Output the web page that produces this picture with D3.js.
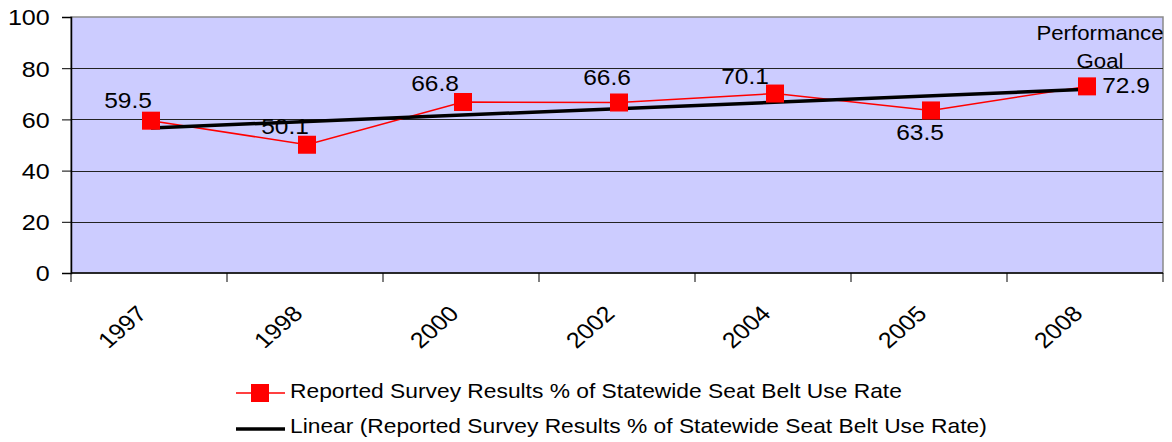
<!DOCTYPE html>
<html>
<head>
	<meta charset="utf-8">
	<title>Seat Belt Use Rate</title>
	<script src="https://d3js.org/d3.v7.min.js"></script>
	<style>
		body { margin: 0; background: #fff; }
		svg text { font-family: "Liberation Sans", Arial, sans-serif; fill: #000; }
	</style>
</head>
<body>
<div id="chart"></div>
<script type="text/javascript">

	// data
	var years = ["1997", "1998", "2000", "2002", "2004", "2005", "2008"];
	var rates = [59.5, 50.1, 66.8, 66.6, 70.1, 63.5, 72.9];
	var yTicks = [0, 20, 40, 60, 80, 100];
	var seriesName = "Reported Survey Results % of Statewide Seat Belt Use Rate";
	var trendName = "Linear (Reported Survey Results % of Statewide Seat Belt Use Rate)";

	// where each value label sits, relative to its marker (placed by hand in the original)
	var labelOffsets = [[-23, -13], [-22, -11], [-28, -11], [-12, -18], [-30, -10], [-11, 30], [39, 7]];

	var W = 1172, H = 442;
	var stretch = 1.14;   // the original picture is a bit wider than tall

	var svg = d3.select("#chart").append("svg")
		.attr("width", W)
		.attr("height", H);

	var x = d3.scaleBand().domain(years).range([71, 1163]).padding(0);
	var y = d3.scaleLinear().domain([0, 100]).range([273, 17]);

	var cx = function(d, i) { return x(years[i]) + x.bandwidth() / 2 + 2; };

	// plot area
	svg.append("rect")
		.attr("x", x.range()[0])
		.attr("y", y(100))
		.attr("width", x.range()[1] - x.range()[0])
		.attr("height", y(0) - y(100))
		.style("fill", "#ccccff")
		.style("stroke", "#8a8a8a")
		.style("stroke-width", 1.5);

	// gridlines
	svg.append("g").selectAll("line")
		.data(yTicks.filter(function(t) { return t > 0 && t < 100; }))
		.enter()
		.append("line")
		.attr("x1", x.range()[0])
		.attr("x2", x.range()[1])
		.attr("y1", function(d) { return Math.round(y(d)) + 0.5; })
		.attr("y2", function(d) { return Math.round(y(d)) + 0.5; })
		.style("stroke", "#222")
		.style("stroke-width", 1);

	// y axis
	var yAxis = svg.append("g")
		.attr("transform", "translate(" + x.range()[0] + ",0)")
		.call(d3.axisLeft(y).tickValues(yTicks).tickSize(9).tickPadding(11));
	yAxis.select(".domain").style("stroke", "#000").style("stroke-width", 1.5);
	yAxis.selectAll(".tick line").style("stroke", "#000");
	yAxis.selectAll(".tick text")
		.style("font-size", "22px")
		.attr("dy", "0.36em")
		.attr("transform", "scale(" + stretch + ",1)");
	yAxis.selectAll(".tick text").attr("x", -19 / stretch - 2);

	// x axis line and ticks at the category borders
	svg.append("line")
		.attr("x1", x.range()[0])
		.attr("x2", x.range()[1])
		.attr("y1", y(0))
		.attr("y2", y(0))
		.style("stroke", "#000")
		.style("stroke-width", 1.5);

	var borders = years.map(function(d) { return x(d); }).concat([x.range()[1]]);
	svg.append("g").selectAll("line")
		.data(borders)
		.enter()
		.append("line")
		.attr("x1", function(d) { return d; })
		.attr("x2", function(d) { return d; })
		.attr("y1", y(0))
		.attr("y2", y(0) + 9)
		.style("stroke", "#000")
		.style("stroke-width", 1);

	svg.append("g").selectAll("text")
		.data(years)
		.enter()
		.append("text")
		.attr("transform", function(d) {
			return "translate(" + (x(d) + x.bandwidth() / 2 - 1) + "," + 315 + ") scale(" + stretch + ",1) rotate(-45)";
		})
		.style("text-anchor", "end")
		.style("font-size", "22px")
		.text(function(d) { return d; });

	// survey line
	var line = d3.line()
		.x(function(d, i) { return cx(d, i); })
		.y(function(d) { return y(d); });

	svg.append("path")
		.datum(rates)
		.attr("d", line)
		.style("fill", "none")
		.style("stroke", "#ff0000")
		.style("stroke-width", 1.5);

	// linear trend (least squares over the category index)
	var n = rates.length;
	var mx = d3.mean(rates, function(d, i) { return i; });
	var my = d3.mean(rates);
	var slope = d3.sum(rates, function(d, i) { return (i - mx) * (d - my); }) /
		d3.sum(rates, function(d, i) { return (i - mx) * (i - mx); });
	var trend = [0, n - 1].map(function(i) { return { i: i, v: my + slope * (i - mx) }; });

	svg.append("path")
		.datum(trend)
		.attr("d", d3.line()
			.x(function(d) { return cx(null, d.i); })
			.y(function(d) { return y(d.v); }))
		.style("fill", "none")
		.style("stroke", "#000")
		.style("stroke-width", 3.5);

	// markers
	var ms = 18;
	svg.append("g").selectAll("rect")
		.data(rates)
		.enter()
		.append("rect")
		.attr("x", function(d, i) { return cx(d, i) - ms / 2; })
		.attr("y", function(d) { return y(d) - ms / 2; })
		.attr("width", ms)
		.attr("height", ms)
		.style("fill", "#ff0000");

	// value labels
	svg.append("g").selectAll("text")
		.data(rates)
		.enter()
		.append("text")
		.attr("transform", function(d, i) {
			return "translate(" + (cx(d, i) + labelOffsets[i][0]) + "," + (y(d) + labelOffsets[i][1]) + ") scale(" + stretch + ",1)";
		})
		.style("text-anchor", "middle")
		.style("font-size", "21.5px")
		.text(function(d) { return d.toFixed(1); });

	// goal note
	var goalX = cx(null, n - 1) + 13;
	svg.append("text")
		.attr("transform", "translate(" + goalX + ",40) scale(" + stretch + ",1)")
		.style("text-anchor", "middle")
		.style("font-size", "19.5px")
		.text("Performance");
	svg.append("text")
		.attr("transform", "translate(" + goalX + ",68) scale(" + stretch + ",1)")
		.style("text-anchor", "middle")
		.style("font-size", "19.5px")
		.text("Goal");

	// legend
	var legend = svg.append("g");
	legend.append("line")
		.attr("x1", 236).attr("x2", 285)
		.attr("y1", 393).attr("y2", 393)
		.style("stroke", "#ff0000").style("stroke-width", 1.5);
	legend.append("rect")
		.attr("x", 260 - ms / 2).attr("y", 393 - ms / 2)
		.attr("width", ms).attr("height", ms)
		.style("fill", "#ff0000");
	legend.append("text")
		.attr("transform", "translate(290,398) scale(" + stretch + ",1)")
		.style("font-size", "20px")
		.text(seriesName);

	legend.append("line")
		.attr("x1", 236).attr("x2", 285)
		.attr("y1", 429).attr("y2", 429)
		.style("stroke", "#000").style("stroke-width", 3.5);
	legend.append("text")
		.attr("transform", "translate(290,433) scale(" + stretch + ",1)")
		.style("font-size", "20px")
		.text(trendName);

</script>
</body>
</html>
